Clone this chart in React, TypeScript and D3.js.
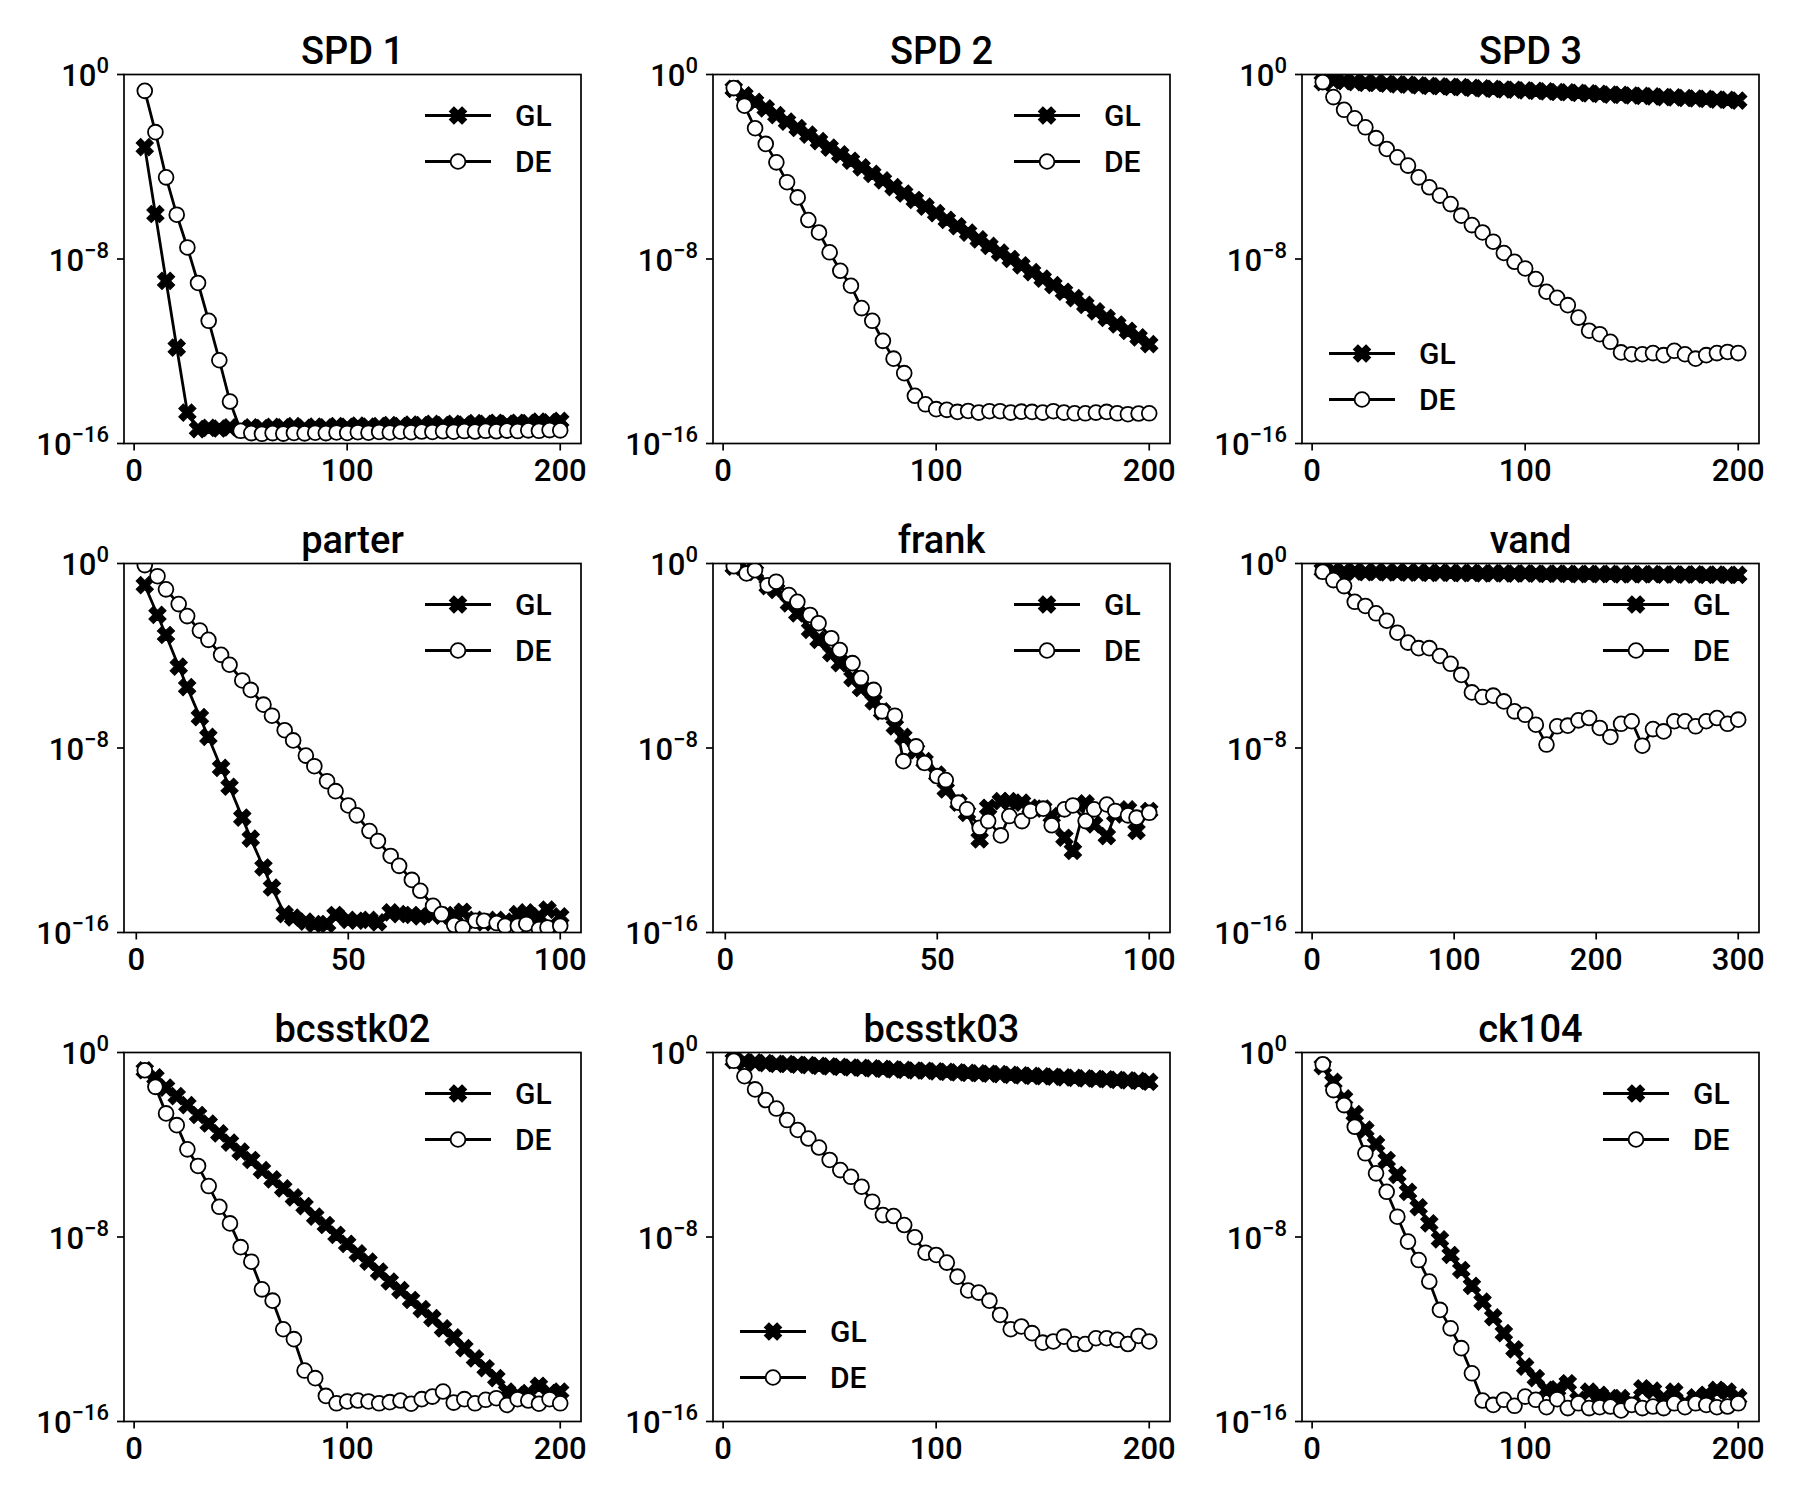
import React from "react";
import * as d3 from "d3";

// iteration counts on the x axis
const iters200 = [5, 10, 15, 20, 25, 30, 35, 40, 45, 50, 55, 60, 65, 70, 75, 80, 85, 90, 95, 100,
  105, 110, 115, 120, 125, 130, 135, 140, 145, 150, 155, 160, 165, 170, 175, 180, 185, 190, 195, 200];
const iters100 = [2, 5, 7, 10, 12, 15, 17, 20, 22, 25, 27, 30, 32, 35, 37, 40, 42, 45, 47, 50,
  52, 55, 57, 60, 62, 65, 67, 70, 72, 75, 77, 80, 82, 85, 87, 90, 92, 95, 97, 100];
const iters300 = [7.5, 15, 22.5, 30, 37.5, 45, 52.5, 60, 67.5, 75, 82.5, 90, 97.5, 105, 112.5, 120,
  127.5, 135, 142.5, 150, 157.5, 165, 172.5, 180, 187.5, 195, 202.5, 210, 217.5, 225, 232.5, 240,
  247.5, 255, 262.5, 270, 277.5, 285, 292.5, 300];

// log10 of the error
const spd1GL = [-3.15, -6.05, -8.95, -11.84, -14.66, -15.38, -15.32, -15.35, -15.30, -15.38, -15.30, -15.33, -15.28, -15.30, -15.25, -15.32, -15.27, -15.30, -15.25, -15.28, -15.22, -15.27, -15.25, -15.20, -15.25, -15.18, -15.20, -15.15, -15.20, -15.15, -15.18, -15.12, -15.15, -15.10, -15.15, -15.10, -15.12, -15.05, -15.08, -15.02];
const spd1DE = [-0.71, -2.50, -4.46, -6.08, -7.50, -9.04, -10.68, -12.39, -14.18, -15.45, -15.55, -15.58, -15.55, -15.57, -15.54, -15.56, -15.53, -15.55, -15.52, -15.54, -15.51, -15.53, -15.50, -15.52, -15.49, -15.51, -15.48, -15.50, -15.47, -15.49, -15.46, -15.48, -15.45, -15.47, -15.44, -15.46, -15.43, -15.45, -15.42, -15.43];

const spd2GL = [-0.62, -0.90, -1.19, -1.47, -1.76, -2.04, -2.32, -2.61, -2.89, -3.17, -3.46, -3.74, -4.03, -4.31, -4.59, -4.88, -5.16, -5.44, -5.73, -6.01, -6.30, -6.58, -6.86, -7.15, -7.43, -7.72, -8.00, -8.28, -8.57, -8.85, -9.13, -9.42, -9.70, -9.99, -10.27, -10.55, -10.84, -11.12, -11.40, -11.69];
const spd2DE = [-0.59, -1.35, -2.33, -3.01, -3.81, -4.67, -5.33, -6.31, -6.85, -7.71, -8.51, -9.16, -10.13, -10.68, -11.55, -12.32, -12.95, -13.93, -14.30, -14.51, -14.54, -14.63, -14.59, -14.66, -14.60, -14.60, -14.66, -14.62, -14.63, -14.66, -14.60, -14.66, -14.69, -14.69, -14.66, -14.63, -14.69, -14.73, -14.70, -14.69];

const spd3GL = [-0.33, -0.26, -0.29, -0.33, -0.36, -0.37, -0.40, -0.43, -0.44, -0.47, -0.49, -0.51, -0.54, -0.55, -0.58, -0.60, -0.62, -0.65, -0.66, -0.69, -0.71, -0.73, -0.76, -0.77, -0.80, -0.82, -0.84, -0.87, -0.88, -0.91, -0.93, -0.95, -0.98, -0.99, -1.02, -1.04, -1.06, -1.09, -1.10, -1.13];
const spd3DE = [-0.33, -0.98, -1.53, -1.90, -2.29, -2.76, -3.23, -3.59, -3.95, -4.46, -4.89, -5.25, -5.62, -6.12, -6.53, -6.85, -7.25, -7.74, -8.12, -8.41, -8.87, -9.42, -9.68, -10.00, -10.54, -11.11, -11.26, -11.59, -12.05, -12.13, -12.13, -12.08, -12.17, -11.98, -12.13, -12.32, -12.17, -12.08, -12.03, -12.08];

const parterGL = [-0.94, -2.23, -3.10, -4.47, -5.36, -6.66, -7.52, -8.86, -9.68, -11.02, -11.93, -13.18, -14.05, -15.20, -15.35, -15.53, -15.63, -15.63, -15.24, -15.45, -15.49, -15.45, -15.56, -15.13, -15.20, -15.24, -15.30, -15.20, -15.27, -15.24, -15.10, -15.45, -15.56, -15.45, -15.53, -15.20, -15.13, -15.30, -15.01, -15.30];
const parterDE = [-0.07, -0.55, -1.12, -1.76, -2.28, -2.91, -3.31, -3.96, -4.39, -5.07, -5.48, -6.12, -6.60, -7.23, -7.67, -8.33, -8.79, -9.44, -9.87, -10.49, -10.92, -11.60, -12.03, -12.68, -13.11, -13.72, -14.19, -14.84, -15.20, -15.68, -15.78, -15.49, -15.49, -15.59, -15.71, -15.71, -15.63, -15.85, -15.78, -15.71];

const frankGL = [-0.14, -0.29, -0.36, -0.98, -1.15, -1.73, -2.16, -2.88, -3.31, -3.89, -4.32, -4.97, -5.40, -5.98, -6.41, -7.06, -7.52, -8.10, -8.57, -9.15, -9.80, -10.37, -10.81, -11.96, -10.59, -10.30, -10.30, -10.37, -10.59, -10.63, -10.95, -11.89, -12.46, -10.40, -11.31, -11.82, -10.88, -10.66, -11.60, -10.73];
const frankDE = [-0.12, -0.43, -0.29, -0.94, -0.79, -1.37, -1.66, -2.23, -2.59, -3.24, -3.75, -4.32, -4.97, -5.48, -6.41, -6.60, -8.57, -7.93, -8.65, -9.22, -9.39, -10.37, -10.66, -11.46, -11.17, -11.79, -10.95, -11.17, -10.73, -10.63, -11.35, -10.66, -10.49, -11.17, -10.66, -10.45, -10.73, -10.92, -11.02, -10.81];

const vandGL = [-0.29, -0.33, -0.36, -0.35, -0.38, -0.37, -0.39, -0.38, -0.40, -0.39, -0.41, -0.40, -0.41, -0.42, -0.41, -0.43, -0.42, -0.43, -0.44, -0.43, -0.44, -0.45, -0.44, -0.45, -0.46, -0.45, -0.46, -0.45, -0.47, -0.46, -0.47, -0.46, -0.48, -0.47, -0.48, -0.47, -0.49, -0.48, -0.50, -0.49];
const vandDE = [-0.36, -0.72, -0.98, -1.66, -1.84, -2.16, -2.48, -3.00, -3.43, -3.67, -3.67, -4.01, -4.35, -4.83, -5.59, -5.79, -5.73, -5.98, -6.41, -6.56, -6.99, -7.85, -7.06, -7.03, -6.80, -6.70, -7.13, -7.52, -6.95, -6.84, -7.90, -7.18, -7.28, -6.84, -6.84, -7.06, -6.84, -6.70, -6.95, -6.77];

const bcs02GL = [-0.77, -1.08, -1.52, -1.89, -2.28, -2.71, -3.08, -3.51, -3.91, -4.30, -4.66, -5.10, -5.50, -5.89, -6.28, -6.66, -7.12, -7.48, -7.91, -8.30, -8.71, -9.07, -9.50, -9.93, -10.30, -10.73, -11.13, -11.52, -11.96, -12.35, -12.82, -13.26, -13.69, -14.12, -14.70, -14.85, -14.77, -14.45, -14.77, -14.70];
const bcs02DE = [-0.77, -1.49, -2.64, -3.15, -4.20, -4.92, -5.79, -6.69, -7.41, -8.44, -9.07, -10.27, -10.76, -12.00, -12.43, -13.79, -14.12, -14.89, -15.21, -15.13, -15.09, -15.13, -15.21, -15.16, -15.09, -15.23, -15.03, -14.92, -14.70, -15.18, -15.03, -15.21, -15.06, -14.99, -15.28, -15.03, -15.09, -15.23, -15.03, -15.21];

const bcs03GL = [-0.33, -0.40, -0.43, -0.46, -0.49, -0.50, -0.53, -0.55, -0.58, -0.60, -0.62, -0.65, -0.67, -0.69, -0.71, -0.73, -0.75, -0.78, -0.79, -0.82, -0.84, -0.86, -0.88, -0.90, -0.92, -0.94, -0.97, -0.99, -1.01, -1.03, -1.05, -1.08, -1.10, -1.12, -1.14, -1.16, -1.19, -1.21, -1.23, -1.27];
const bcs03DE = [-0.36, -1.03, -1.60, -2.06, -2.43, -2.93, -3.36, -3.73, -4.12, -4.66, -5.10, -5.39, -5.82, -6.47, -7.05, -7.09, -7.48, -8.01, -8.68, -8.78, -9.11, -9.72, -10.32, -10.41, -10.76, -11.38, -12.00, -11.88, -12.17, -12.58, -12.53, -12.32, -12.64, -12.64, -12.39, -12.39, -12.46, -12.64, -12.29, -12.53];

const ck104GL = [-0.59, -1.27, -1.99, -2.67, -3.34, -3.97, -4.66, -5.31, -6.04, -6.71, -7.41, -8.10, -8.78, -9.43, -10.12, -10.80, -11.48, -12.17, -12.87, -13.62, -14.12, -14.63, -14.60, -14.34, -15.06, -14.70, -14.84, -14.99, -14.99, -15.21, -14.56, -14.66, -14.99, -14.70, -15.21, -14.95, -14.84, -14.63, -14.70, -14.95];
const ck104DE = [-0.51, -1.63, -2.28, -3.22, -4.37, -5.24, -6.04, -7.12, -8.20, -9.00, -9.93, -11.16, -11.96, -12.82, -13.91, -15.09, -15.28, -15.06, -15.32, -14.92, -15.06, -15.38, -15.03, -15.42, -15.21, -15.42, -15.38, -15.35, -15.52, -15.28, -15.42, -15.35, -15.42, -15.21, -15.38, -15.21, -15.28, -15.38, -15.35, -15.21];

const titles = ["SPD 1", "SPD 2", "SPD 3", "parter", "frank", "vand", "bcsstk02", "bcsstk03", "ck104"];
const xTicks200 = [0, 100, 200];
const xTicks100 = [0, 50, 100];
const xTicks300 = [0, 100, 200, 300];
const yTickExps = [0, -8, -16];
const seriesNames = ["GL", "DE"];

const panels = [
  { x: iters200, gl: spd1GL, de: spd1DE, ticks: xTicks200, legend: "ur" },
  { x: iters200, gl: spd2GL, de: spd2DE, ticks: xTicks200, legend: "ur" },
  { x: iters200, gl: spd3GL, de: spd3DE, ticks: xTicks200, legend: "ll" },
  { x: iters100, gl: parterGL, de: parterDE, ticks: xTicks100, legend: "ur" },
  { x: iters100, gl: frankGL, de: frankDE, ticks: xTicks100, legend: "ur" },
  { x: iters300, gl: vandGL, de: vandDE, ticks: xTicks300, legend: "ur" },
  { x: iters200, gl: bcs02GL, de: bcs02DE, ticks: xTicks200, legend: "ur" },
  { x: iters200, gl: bcs03GL, de: bcs03DE, ticks: xTicks200, legend: "ll" },
  { x: iters200, gl: ck104GL, de: ck104DE, ticks: xTicks200, legend: "ur" },
];

const W = 1800;
const H = 1500;
const colLeft = [124, 713, 1302];
const rowTop = [74.5, 563.5, 1052.5];
const axW = 457;
const axH = 369;
const FONT = "Roboto, 'DejaVu Sans', sans-serif";
const FW = 500;
const LW = 2.8;

// filled "X" marker: a plus rotated by 45 degrees
const xa = 9, xw = 3.2;
const plusPath = `M${xa},${xw}L${xw},${xw}L${xw},${xa}L${-xw},${xa}L${-xw},${xw}L${-xa},${xw}L${-xa},${-xw}L${-xw},${-xw}L${-xw},${-xa}L${xw},${-xa}L${xw},${-xw}L${xa},${-xw}Z`;

function XMark({ cx, cy }) {
  return <path d={plusPath} transform={`translate(${cx},${cy}) rotate(45)`} fill="#000" stroke="#000" strokeWidth={1} />;
}
function OMark({ cx, cy }) {
  return <circle cx={cx} cy={cy} r={7.4} fill="#fff" stroke="#000" strokeWidth={1.8} />;
}

function Panel({ p, i }) {
  const left = colLeft[i % 3];
  const top = rowTop[Math.floor(i / 3)];
  const xmin = d3.min(p.x);
  const xmax = d3.max(p.x);
  const pad = (xmax - xmin) * 0.05;
  const x = d3.scaleLinear().domain([xmin - pad, xmax + pad]).range([0, axW]);
  const y = d3.scaleLog().domain([1e-16, 1]).range([axH, 0]);
  const pts = (vals) => vals.map((v, k) => [x(p.x[k]), y(Math.pow(10, v))]);
  const line = d3.line();
  const gl = pts(p.gl);
  const de = pts(p.de);
  const clipId = `clip${i}`;

  const legendRows = p.legend === "ur"
    ? { x0: axW - 156, ys: [41, 87] }
    : { x0: 27, ys: [axH - 90, axH - 44] };

  return (
    <g transform={`translate(${left},${top})`}>
      <defs>
        <clipPath id={clipId}>
          <rect x={0} y={0} width={axW} height={axH} />
        </clipPath>
      </defs>
      <g clipPath={`url(#${clipId})`}>
        <path d={line(gl)} fill="none" stroke="#000" strokeWidth={LW} strokeLinejoin="round" />
        {gl.map((d, k) => <XMark key={"g" + k} cx={d[0]} cy={d[1]} />)}
        <path d={line(de)} fill="none" stroke="#000" strokeWidth={LW} strokeLinejoin="round" />
        {de.map((d, k) => <OMark key={"d" + k} cx={d[0]} cy={d[1]} />)}
      </g>
      <rect x={0} y={0} width={axW} height={axH} fill="none" stroke="#000" strokeWidth={1.7} />

      {/* x ticks */}
      {p.ticks.map((t) => (
        <g key={"xt" + t} transform={`translate(${x(t)},${axH})`}>
          <line y1={0} y2={7} stroke="#000" strokeWidth={1.7} />
          <text y={37.5} textAnchor="middle" fontSize={31} fontWeight={FW} fontFamily={FONT}>{t}</text>
        </g>
      ))}

      {/* y ticks */}
      {yTickExps.map((e) => (
        <g key={"yt" + e} transform={`translate(0,${y(Math.pow(10, e))})`}>
          <line x1={-7} x2={0} stroke="#000" strokeWidth={1.7} />
          <text x={-15} y={11.5} textAnchor="end" fontSize={31} fontWeight={FW} fontFamily={FONT}>
            10<tspan dy={-13} fontSize={22}>{e === 0 ? "0" : "\u2212" + -e}</tspan>
          </text>
        </g>
      ))}

      <text x={axW / 2} y={-11} textAnchor="middle" fontSize={38} fontWeight={FW} fontFamily={FONT}>{titles[i]}</text>

      {/* legend */}
      {seriesNames.map((name, k) => {
        const ly = legendRows.ys[k];
        const lx = legendRows.x0;
        return (
          <g key={name}>
            <line x1={lx} x2={lx + 66} y1={ly} y2={ly} stroke="#000" strokeWidth={LW} />
            {k === 0 ? <XMark cx={lx + 33} cy={ly} /> : <OMark cx={lx + 33} cy={ly} />}
            <text x={lx + 90} y={ly + 10.5} fontSize={30} fontWeight={FW} fontFamily={FONT}>{name}</text>
          </g>
        );
      })}
    </g>
  );
}

export default function App() {
  return (
    <svg width={W} height={H} style={{ position: "absolute", left: 0, top: 0, background: "#fff" }}>
      <rect width={W} height={H} fill="#fff" />
      {panels.map((p, i) => <Panel key={i} p={p} i={i} />)}
    </svg>
  );
}
